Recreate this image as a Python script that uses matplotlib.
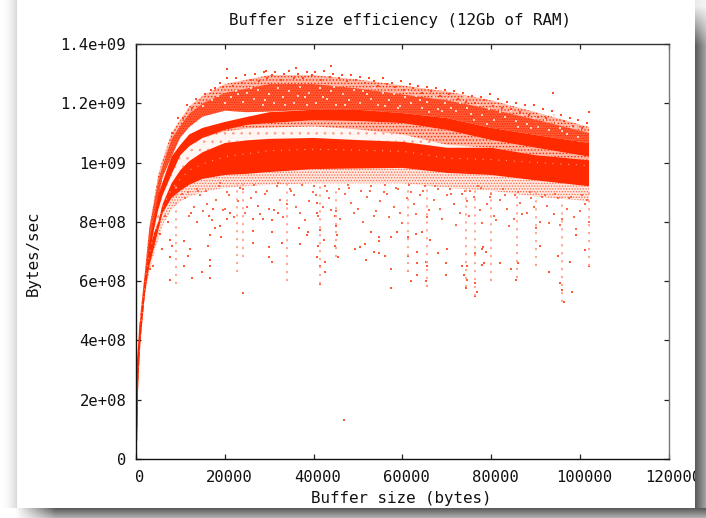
import numpy as np
import matplotlib
matplotlib.use('Agg')
import matplotlib.pyplot as plt
from matplotlib.transforms import ScaledTranslation

# Envelope of the three bands, all y values in units of 1e8 bytes/sec
band_x = [200, 500, 1000, 1500, 2000, 3000, 4000, 5000, 6000, 8000, 10000, 12000, 15000,
          20000, 25000, 30000, 40000, 50000, 60000, 70000, 80000, 90000, 102000]
a_rim = [2.0, 3.4, 4.9, 5.6, 6.3, 7.8, 8.7, 9.6, 10.1, 11.0, 11.45, 11.9, 12.25,
         12.65, 12.8, 12.95, 12.95, 12.8, 12.6, 12.4, 12.1, 11.7, 11.2]
a_top = [2.0, 3.4, 4.9, 5.6, 6.3, 7.8, 8.6, 9.4, 9.9, 10.8, 11.25, 11.65, 12.0,
         12.35, 12.5, 12.65, 12.65, 12.5, 12.3, 12.1, 11.8, 11.45, 11.0]
a_low = [0.7, 2.6, 4.0, 4.8, 5.6, 7.0, 8.0, 8.8, 9.5, 10.2, 10.85, 11.2, 11.55,
         11.75, 11.7, 11.72, 11.78, 11.78, 11.67, 11.5, 11.17, 10.93, 10.66]
b_top = [0.7, 2.6, 4.0, 4.8, 5.9, 7.3, 8.1, 8.9, 9.35, 10.2, 10.6, 10.95, 11.17,
         11.37, 11.54, 11.7, 11.78, 11.78, 11.67, 11.5, 11.17, 10.93, 10.66]
b_low = [0.7, 2.6, 4.0, 4.8, 5.6, 6.8, 7.7, 8.4, 8.9, 9.6, 10.25, 10.55, 10.83,
         11.1, 11.27, 11.33, 11.43, 11.4, 11.33, 11.1, 10.76, 10.5, 10.2]
mid_edge = [0.7, 2.6, 4.0, 4.8, 5.6, 6.8, 7.7, 8.4, 8.9, 9.6, 10.25, 10.55, 10.83,
            11.05, 11.15, 11.18, 11.22, 11.12, 10.95, 10.6, 10.5, 10.25, 10.08]
c_top = [1.5, 3.2, 4.6, 5.4, 6.1, 7.0, 7.6, 8.0, 8.6, 9.3, 9.75, 10.05, 10.35,
         10.66, 10.75, 10.8, 10.83, 10.76, 10.7, 10.5, 10.5, 10.25, 10.08]
c_low = [0.7, 2.6, 4.0, 4.8, 5.6, 6.5, 7.1, 7.7, 8.3, 8.8, 9.05, 9.25, 9.45,
         9.58, 9.62, 9.68, 9.78, 9.8, 9.82, 9.65, 9.58, 9.4, 9.2]
c_gap = [1.0, 2.9, 4.3, 5.1, 5.8, 6.9, 7.55, 7.95, 8.5, 9.1, 9.45, 9.75, 9.95,
         10.2, 10.3, 10.4, 10.45, 10.42, 10.38, 10.15, 10.1, 10.0, 9.9]
fringe_low = [0.7, 2.6, 3.9, 4.7, 5.5, 6.3, 6.9, 7.4, 7.9, 8.4, 8.7, 8.85, 9.0,
              9.15, 9.2, 9.25, 9.3, 9.3, 9.3, 9.15, 9.05, 8.85, 8.7]

# Vertical streaks of low readings
streak_x = [9000, 22750, 24100, 34000, 41400, 45000, 61300, 65500, 74300, 76300, 80000, 85800, 90000, 96000, 102000]
streak_lo = [5.9, 6.3, 6.8, 6.0, 5.9, 6.8, 6.3, 5.8, 5.8, 5.5, 6.0, 6.1, 6.5, 5.3, 6.5]
streak_hi = [9.2, 9.3, 9.3, 9.4, 9.2, 9.2, 9.2, 9.2, 9.2, 9.2, 9.0, 9.0, 9.0, 9.0, 9.0]

# Single outliers below the bands
out_x = [6.5, 7.3, 5.4, 7.7, 8, 5.8, 7.7, 3.2, 3.9, 7.7, 12.6, 10.7, 14.8, 16.6, 16.6, 16.6, 16.2, 12.2, 11.8, 10.7,
         13.7, 12.3, 16.5, 16.6, 17.7, 19, 19.1, 17.4, 21.2, 20.6, 26.4, 26.3, 26.3, 28.5, 30.6, 30.6, 30, 30, 30.7, 32.8,
         32, 36.6, 37, 38.6, 38.8, 24.2, 40.7, 40.7, 41.4, 42.3, 40.9, 40.7, 41.4, 42.6, 41.4, 42.6, 44.8, 45, 45.2, 44.8,
         45.4, 49.3, 50.5, 51.6, 51.7, 53, 54.6, 54.6, 54.6, 53.5, 57.4, 56, 57.4, 57.4, 58.8, 61.3, 61.3, 61.3, 61.9, 63.2,
         63.2, 63.2, 63.1, 64.4, 65.4, 65.6, 65.4, 65.6, 66.2, 68.1, 70, 69.7, 69.7, 73.5, 74.5, 73.9, 74.3, 74.5, 76.4, 76.7,
         76.4, 76.4, 78.1, 77.9, 78.8, 79.9, 82, 84.4, 85.6, 86.1, 90.1, 92.9, 95.1, 95.9, 96.3, 95.5, 98.1, 101, 102.1, 99,
         97.8, 91, 78.3, 78, 46.8]
out_y = [8.2, 8.0, 7.6, 7.4, 7.2, 7.1, 6.8, 6.4, 6.5, 6.05, 6.1, 6.5, 6.3, 6.1, 6.7, 6.5, 7.2, 7.1, 6.85, 7.35,
         8.0, 8.3, 8.2, 7.55, 7.8, 7.85, 7.5, 8.45, 8.3, 8.1, 8.1, 7.7, 7.3, 8.1, 8.05, 7.65, 7.15, 6.8, 6.65, 7.3,
         8.3, 7.8, 7.25, 7.55, 7.65, 5.6, 8.63, 8.3, 7.73, 7.4, 7.2, 6.8, 6.5, 6.3, 5.9, 6.65, 8.2, 7.85, 7.55, 7.17,
         6.8, 7.1, 7.15, 7.25, 6.72, 7.65, 7.5, 7.35, 6.95, 7.0, 7.5, 6.85, 6.4, 5.77, 7.65, 7.5, 6.85, 6.35, 6.0, 6.2,
         7.0, 6.6, 7.6, 7.65, 6.65, 6.5, 6.0, 5.85, 7.4, 6.95, 7.1, 6.6, 6.2, 6.5, 6.5, 6.2, 5.77, 6.05, 5.95, 5.65,
         5.5, 6.95, 7.15, 6.55, 7.0, 6.05, 6.6, 6.4, 6.05, 6.6, 6.55, 6.3, 6.85, 5.7, 5.3, 5.95, 5.65, 7.05, 6.5, 7.55,
         6.65, 7.2, 6.6, 7.1, 1.3]

# Denser rain right under the lower band
rain_x = [11, 13, 14.5, 16, 18, 19.5, 21, 23, 24.5, 26, 27.5, 29, 31, 32.5, 34, 35.5, 37, 39, 40.5, 42,
          43.5, 45, 47, 48.5, 50, 52, 53.5, 55, 56.5, 58, 59.5, 61, 62.5, 64, 65.5, 67, 68.5, 70, 71.5, 73,
          74.5, 76, 77.5, 79, 80.5, 82, 83.5, 85, 86.5, 88, 89.5, 91, 92.5, 94, 95.5, 97, 98.5, 100, 101, 102,
          12, 15, 17, 20, 22, 25, 28, 30, 33, 36, 38, 41, 44, 46, 49, 51, 54, 57, 60, 63,
          66, 69, 72, 75, 78, 81, 84, 87, 90, 93, 96, 99,
          11.7, 13.8, 15.7, 18.6, 20.4, 23.4, 26.6, 29.4, 31.8, 34.6, 37.4, 39.8, 42.6, 45.6, 47.8, 50.6, 53, 55.8, 58.6, 61.4,
          64.6, 67.4, 70.6, 73.4, 75.2, 77.6, 80, 82.6, 85.4, 88.6, 91.4, 94.4, 97.4, 100.4,
          10.4, 14, 19, 24, 27, 32, 35, 40, 43, 48, 52.6, 56, 59, 62, 65, 68, 71, 74, 77, 79.6,
          83, 86, 89, 92, 95, 98, 101.6]
rain_y = [8.8, 8.5, 8.9, 8.6, 8.75, 8.4, 8.9, 8.7, 8.3, 8.8, 8.55, 8.95, 8.4, 8.75, 8.6, 8.9, 8.3, 8.7, 8.9, 8.5,
          8.8, 8.35, 8.95, 8.65, 8.45, 8.85, 8.2, 8.7, 8.95, 8.5, 8.3, 8.8, 8.6, 8.9, 8.15, 8.75, 8.45, 8.9, 8.6, 8.3,
          8.7, 8.85, 8.4, 8.6, 8.2, 8.75, 8.45, 8.1, 8.65, 8.3, 8.5, 8.0, 8.55, 8.25, 7.9, 8.45, 8.15, 8.35, 8.6, 8.0,
          8.2, 8.35, 8.05, 8.45, 8.15, 8.5, 8.25, 8.45, 8.15, 8.5, 8.05, 8.2, 8.4, 8.1, 8.3, 8.0, 8.35, 8.15, 7.95, 8.25,
          8.4, 8.1, 7.9, 8.2, 7.95, 8.05, 7.85, 8.25, 7.8, 7.95, 8.1, 7.75,
          9.0, 9.1, 9.05, 9.2, 9.0, 9.15, 9.25, 9.05, 9.2, 9.1, 9.25, 9.0, 9.2, 9.1, 9.25, 9.05, 9.2, 9.0, 9.15, 9.25,
          9.05, 9.2, 9.1, 8.95, 9.05, 9.15, 8.95, 9.1, 8.9, 9.0, 8.85, 8.95, 8.8, 8.9,
          8.95, 9.05, 9.3, 9.1, 9.0, 9.3, 9.05, 9.2, 9.05, 9.15, 9.05, 9.25, 9.1, 9.0, 9.2, 9.1, 8.95, 9.05, 9.2, 8.85,
          8.9, 9.0, 8.8, 8.9, 8.8, 8.85, 8.75]

# Stray points over the top of the noisy band
edge_x = [8.2, 9.4, 10.6, 11.4, 12.6, 13.4, 14.2, 15.6, 16.8, 17.8, 18.8, 19.6, 20.6, 21.8, 22.6, 23.8, 24.6, 25.8, 26.8, 27.6,
          28.8, 29.6, 30.6, 31.4, 32.6, 33.4, 34.4, 35.6, 36.4, 37.6, 38.4, 39.6, 40.4, 41.6, 42.4, 43.6, 44.4, 45.6, 46.4, 47.6,
          48.4, 49.6, 50.4, 51.6, 52.4, 53.6, 54.4, 55.6, 56.4, 57.6, 58.4, 59.6, 60.4, 61.6, 62.4, 63.6, 64.4, 65.6, 66.4, 67.6,
          68.4, 69.6, 70.4, 71.6, 72.4, 73.6, 74.4, 75.6, 76.4, 77.6, 78.4, 79.6, 80.4, 81.6, 82.4, 83.6, 84.4, 85.6, 86.4, 87.6,
          88.4, 89.6, 90.4, 91.6, 92.4, 93.6, 94.4, 95.6, 96.4, 97.6, 98.4, 99.6, 100.4, 101.6, 20.4, 102, 36, 43.8, 29.2, 93.8]
edge_y = [11.0, 11.5, 11.5, 11.95, 11.85, 12.15, 12.0, 12.3, 12.45, 12.5, 12.7, 12.55, 12.85, 12.6, 12.85, 12.7, 12.95, 12.8, 13.0, 12.75,
          13.05, 12.85, 12.95, 13.05, 12.8, 13.0, 13.1, 12.85, 13.0, 12.85, 13.05, 12.95, 13.05, 12.8, 13.1, 12.9, 13.0, 12.85, 12.95, 12.75,
          12.95, 12.8, 12.9, 12.7, 12.85, 12.75, 12.6, 12.85, 12.65, 12.7, 12.55, 12.75, 12.45, 12.65, 12.5, 12.6, 12.35, 12.55, 12.4, 12.5,
          12.25, 12.45, 12.3, 12.4, 12.15, 12.35, 12.05, 12.25, 12.0, 12.2, 12.1, 12.3, 11.9, 12.15, 11.85, 12.05, 11.8, 12.0, 11.7, 11.95,
          11.6, 11.95, 11.55, 11.8, 11.5, 11.75, 11.35, 11.6, 11.4, 11.5, 11.25, 11.45, 11.15, 11.35, 13.15, 11.7, 13.2, 13.25, 13.1, 12.35]

# Pale holes in the noisy band
hole_x = [15, 17, 18.5, 20, 21.5, 22.5, 24, 25, 26.5, 27.5, 28.5, 30, 31, 32, 33, 34.5, 35.5, 37, 38, 39,
          40.5, 41.5, 43, 44, 45, 46.5, 48, 49, 50.5, 52, 53, 54.5, 55.5, 57, 58, 59.5, 60.5, 62, 63, 64.5,
          65.5, 67, 68, 69.5, 70.5, 72, 73, 74.5, 75.5, 77, 78, 79.5, 80.5, 82, 83, 84.5, 85.5, 87, 88, 89.5,
          90.5, 92, 93, 94.5, 95.5, 97, 98, 99.5, 23, 26, 29, 33.5, 36.5, 42, 47, 51, 56, 61, 66, 71,
          76, 81, 86, 91, 96, 19, 38.5, 44.5, 53.5, 59, 64, 69, 74, 79, 84, 89, 94, 99]
hole_y = [11.9, 12.1, 12.25, 12.0, 12.2, 12.4, 12.05, 12.35, 12.15, 12.45, 11.95, 12.3, 12.0, 12.5, 12.2, 12.4, 12.0, 12.55, 12.2, 12.35,
          12.0, 12.5, 12.15, 12.4, 11.95, 12.3, 12.1, 12.45, 12.0, 12.3, 12.15, 11.95, 12.35, 12.1, 12.3, 11.9, 12.2, 12.0, 12.25, 11.85,
          12.05, 12.2, 11.8, 12.0, 12.15, 11.75, 12.0, 11.85, 11.65, 11.95, 11.6, 11.8, 11.45, 11.7, 11.55, 11.75, 11.4, 11.6, 11.3, 11.5,
          11.2, 11.45, 11.1, 11.35, 11.15, 10.95, 11.2, 10.85, 12.3, 12.5, 12.1, 11.95, 12.25, 12.2, 11.95, 12.4, 11.9, 12.4, 11.7, 11.85,
          11.45, 11.95, 11.2, 11.65, 11.05, 12.45, 11.95, 12.55, 12.5, 11.85, 12.1, 11.75, 12.2, 11.3, 11.9, 11.15, 11.6, 11.2]

# Low part of the curve, climbing along the y axis
rise_x = [90, 150, 225, 300, 450, 700, 1000]
rise_y = [0.65, 1.2, 2.0, 2.8, 3.4, 3.9, 4.6]

x_ticks = [0, 20000, 40000, 60000, 80000, 100000, 120000]
x_labels = ['0', '20000', '40000', '60000', '80000', '100000', '120000']
y_ticks = [0, 2e8, 4e8, 6e8, 8e8, 1e9, 1.2e9, 1.4e9]
y_labels = ['0', '2e+08', '4e+08', '6e+08', '8e+08', '1e+09', '1.2e+09', '1.4e+09']

RED = '#ff2a00'
W, H = 706, 518
plt.rcParams['font.family'] = ['DejaVu Sans Mono']
plt.rcParams['hatch.linewidth'] = 0.6

fig = plt.figure(figsize=(W / 100, H / 100), dpi=100, facecolor='white')
ax = fig.add_axes([136 / W, (H - 459) / H, 533 / W, 415 / H])

x = np.array(band_x)
e = 1e8


def band(low, high, **kw):
    ax.fill_between(x, np.array(low) * e, np.array(high) * e, linewidth=0, **kw)


# Pale speckled fringes and the noisy top band
band(fringe_low, c_low, facecolor='#ffe6df', edgecolor='#ff6a48', hatch='......')
band(c_top, mid_edge, facecolor='#fff6f3', edgecolor='#ff9c85', hatch='..')
band(mid_edge, b_low, facecolor='#ffb8a6', edgecolor=RED, hatch='.....')
band(a_top, a_rim, facecolor='#ffb8a6', edgecolor=RED, hatch='.....')
band(a_low, a_top, facecolor='#ff5a36', edgecolor=RED, hatch='.......')

ax.vlines(np.array(streak_x), np.array(streak_lo) * e, np.array(streak_hi) * e,
          color='#ffa08a', linewidth=1.3, linestyles=(0, (1.2, 3.2)))
ax.scatter(np.array(rain_x) * 1000, np.array(rain_y) * e, s=1.9, marker='s', color='#ff6a48', linewidths=0)
ax.scatter(np.array(out_x) * 1000, np.array(out_y) * e, s=1.6, marker='s', color='#ff5a35', linewidths=0)
ax.scatter(np.array(edge_x) * 1000, np.array(edge_y) * e, s=2.0, marker='s', color='#ff4a25', linewidths=0)
ax.scatter(np.array(hole_x) * 1000, np.array(hole_y) * e, s=4.5, marker='s', color='#ffd0c4', linewidths=0)

# Solid bands on top
band(b_low, b_top, facecolor=RED)
band(c_low, c_top, facecolor=RED)
ax.plot(x, np.array(c_gap) * e, color='white', linewidth=0.7, linestyle=(0, (1, 7)), alpha=0.7)
ax.plot(rise_x, np.array(rise_y) * e, color=RED, linewidth=1.3)

ax.set_xlim(0, 120000)
ax.set_ylim(0, 1.4e9)
ax.set_xticks(x_ticks)
ax.set_xticklabels(x_labels)
ax.set_yticks(y_ticks)
ax.set_yticklabels(y_labels)
ax.tick_params(axis='both', which='major', direction='in', length=3.5, width=0.9, top=True, right=True,
               labelsize=11.2, pad=7, color='#222222', labelcolor='#111111')
ax.tick_params(axis='x', pad=8)
shift = ScaledTranslation(4 / 100, 0, fig.dpi_scale_trans)
for lab in ax.get_xticklabels():
    lab.set_transform(lab.get_transform() + shift)
for name in ax.spines:
    ax.spines[name].set_linewidth(1.0)
    ax.spines[name].set_color('#111111')
ax.spines['right'].set_color('#777777')
ax.spines['top'].set_color('#333333')

fig.text(400 / W, 1 - 20 / H, 'Buffer size efficiency (12Gb of RAM)', ha='center', va='center', fontsize=11.4, color='#111111')
fig.text(401 / W, 1 - 499 / H, 'Buffer size (bytes)', ha='center', va='center', fontsize=11.4, color='#111111')
fig.text(33 / W, 1 - 253 / H, 'Bytes/sec', ha='center', va='center', rotation=90, fontsize=11.4, color='#111111')

# Drop shadow round the page of the screenshot
yy, xx = np.mgrid[0:H, 0:W]
grey = np.ones((H, W))
alpha = np.zeros((H, W))
left = xx < 17
grey[left] = 1 - 0.16 * (xx[left] / 17.0) ** 2
alpha[left] = 1
right = xx >= 695
shade = 0.64 - 0.3 * (xx[right] - 695) / 11.0
grey[right] = 1 - shade * np.clip(yy[right] / 45.0, 0.12, 1)
alpha[right] = 1
bottom = yy >= 508
shade = 0.64 - 0.36 * (yy[bottom] - 508) / 10.0
grey[bottom] = 1 - shade * np.clip((xx[bottom] - 15) / 40.0, 0, 1)
alpha[bottom] = 1
rgba = np.dstack([grey, grey, grey, alpha])
over = fig.add_axes([0, 0, 1, 1], zorder=10)
over.imshow(rgba, aspect='auto', interpolation='nearest')
over.axis('off')

fig.savefig('out.png', dpi=100)
